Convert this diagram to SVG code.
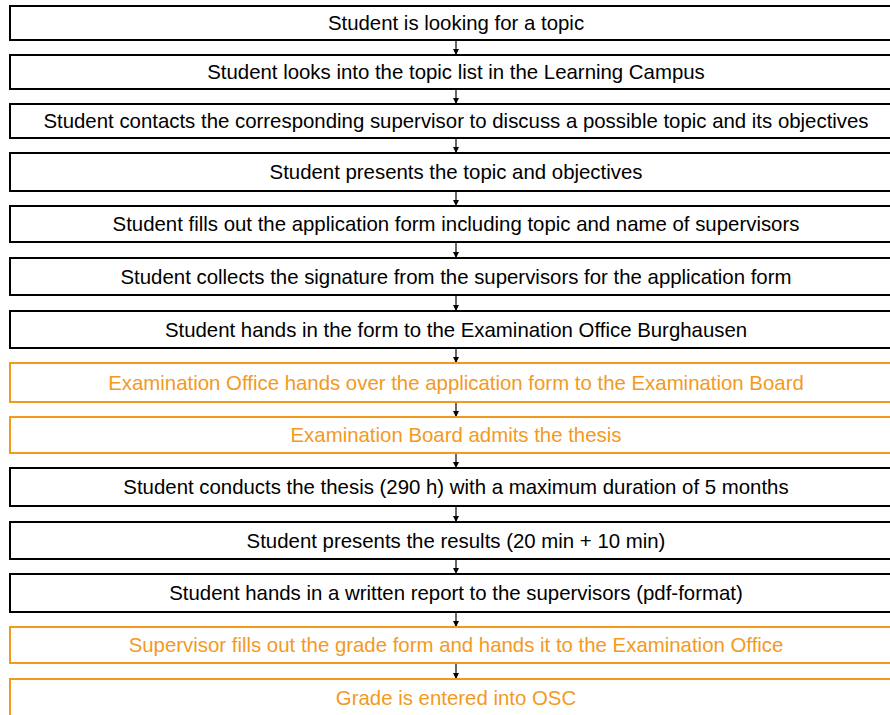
<svg xmlns="http://www.w3.org/2000/svg" width="890" height="715" viewBox="0 0 890 715">
<defs>
<marker id="ah" viewBox="0 0 10 10" refX="10" refY="5" markerWidth="6" markerHeight="6" markerUnits="userSpaceOnUse" orient="auto">
<path d="M0,0 L10,5 L0,10 z" fill="#000"/>
</marker>
<style>
.b rect{fill:#fff;stroke:#000;stroke-width:2}
.o rect{fill:#fff;stroke:#F39A1E;stroke-width:2}
text{font-family:"Liberation Sans",Arial,sans-serif;font-size:20.4px;text-anchor:middle}
.b text{fill:#000}
.o text{fill:#F39A1E}
.c line{stroke:#000;stroke-width:1.2;marker-end:url(#ah)}
</style>
</defs>
<rect width="890" height="715" fill="#fff"/>
<g class="c">
<line x1="456" y1="40" x2="456" y2="55"/>
<line x1="456" y1="89" x2="456" y2="104"/>
<line x1="456" y1="138" x2="456" y2="153"/>
<line x1="456" y1="191" x2="456" y2="206"/>
<line x1="456" y1="242" x2="456" y2="258"/>
<line x1="456" y1="295" x2="456" y2="311"/>
<line x1="456" y1="348" x2="456" y2="363"/>
<line x1="456" y1="402" x2="456" y2="417"/>
<line x1="456" y1="453" x2="456" y2="468"/>
<line x1="456" y1="506" x2="456" y2="522"/>
<line x1="456" y1="559" x2="456" y2="574"/>
<line x1="456" y1="612" x2="456" y2="627"/>
<line x1="456" y1="663" x2="456" y2="679"/>
</g>
<g id="n1" class="b"><rect x="10" y="6" width="890" height="34"/><text x="456" y="30">Student is looking for a topic</text></g>
<g id="n2" class="b"><rect x="10" y="55" width="890" height="34"/><text x="456" y="79">Student looks into the topic list in the Learning Campus</text></g>
<g id="n3" class="b"><rect x="10" y="104" width="890" height="34"/><text x="456" y="128">Student contacts the corresponding supervisor to discuss a possible topic and its objectives</text></g>
<g id="n4" class="b"><rect x="10" y="153" width="890" height="38"/><text x="456" y="179">Student presents the topic and objectives</text></g>
<g id="n5" class="b"><rect x="10" y="206" width="890" height="36"/><text x="456" y="231">Student fills out the application form including topic and name of supervisors</text></g>
<g id="n6" class="b"><rect x="10" y="258" width="890" height="37"/><text x="456" y="283.5">Student collects the signature from the supervisors for the application form</text></g>
<g id="n7" class="b"><rect x="10" y="311" width="890" height="37"/><text x="456" y="336.5">Student hands in the form to the Examination Office Burghausen</text></g>
<g id="n8" class="o"><rect x="10" y="363" width="890" height="39"/><text x="456" y="389.5">Examination Office hands over the application form to the Examination Board</text></g>
<g id="n9" class="o"><rect x="10" y="417" width="890" height="36"/><text x="456" y="442">Examination Board admits the thesis</text></g>
<g id="n10" class="b"><rect x="10" y="468" width="890" height="38"/><text x="456" y="494">Student conducts the thesis (290 h) with a maximum duration of 5 months</text></g>
<g id="n11" class="b"><rect x="10" y="522" width="890" height="37"/><text x="456" y="547.5">Student presents the results (20 min + 10 min)</text></g>
<g id="n12" class="b"><rect x="10" y="574" width="890" height="38"/><text x="456" y="600">Student hands in a written report to the supervisors (pdf-format)</text></g>
<g id="n13" class="o"><rect x="10" y="627" width="890" height="36"/><text x="456" y="652">Supervisor fills out the grade form and hands it to the Examination Office</text></g>
<g id="n14" class="o"><rect x="10" y="679" width="890" height="50"/><text x="456" y="705">Grade is entered into OSC</text></g>
</svg>
